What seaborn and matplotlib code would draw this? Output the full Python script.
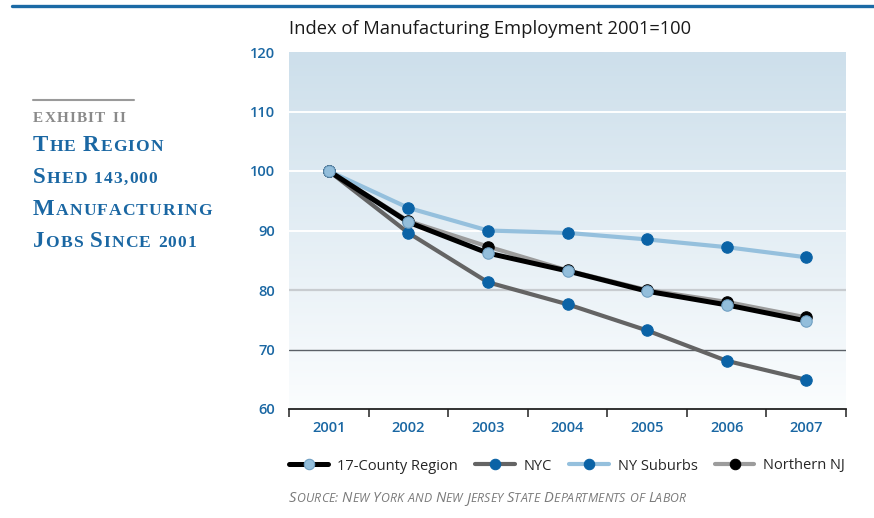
import numpy as np
import pandas as pd
import matplotlib
matplotlib.use("Agg")
import matplotlib.pyplot as plt
from matplotlib.lines import Line2D
from matplotlib.colors import LinearSegmentedColormap
import seaborn as sns

# Index of manufacturing employment, 2001 = 100
years = [2001, 2002, 2003, 2004, 2005, 2006, 2007]
region_17 = [100, 91.4, 86.2, 83.2, 79.8, 77.5, 74.8]
nyc = [100, 89.6, 81.3, 77.6, 73.2, 68.1, 64.9]
ny_suburbs = [100, 93.8, 90.0, 89.6, 88.5, 87.2, 85.5]
northern_nj = [100, 91.6, 87.3, 83.3, 80.0, 78.0, 75.4]
series_names = ["17-County Region", "NYC", "NY Suburbs", "Northern NJ"]
y_ticks = [60, 70, 80, 90, 100, 110, 120]

sns.set_theme(style="white")
SANS = ["Open Sans", "DejaVu Sans"]
SERIF = ["Liberation Serif", "DejaVu Serif"]
plt.rcParams["font.family"] = SANS

W, H = 874, 518
fig = plt.figure(figsize=(W / 100, H / 100), dpi=100)
fig.patch.set_facecolor("white")
ax = fig.add_axes([289 / W, 1 - 409 / H, (846 - 289) / W, (409 - 52) / H])

BLUE = "#1a67a3"
DOT = "#0b63a6"
LIGHT = "#95c0dd"

df = pd.DataFrame({"year": years, "17-County Region": region_17, "NYC": nyc,
                   "NY Suburbs": ny_suburbs, "Northern NJ": northern_nj})

styles = {
    "NYC": dict(color="#646464", lw=3.0, mfc=DOT, mec=DOT),
    "NY Suburbs": dict(color=LIGHT, lw=3.0, mfc=DOT, mec=DOT),
    "Northern NJ": dict(color="#9c9c9c", lw=3.0, mfc="black", mec="black"),
    "17-County Region": dict(color="black", lw=3.6, mfc="#93bedb", mec="#6f9fc2"),
}
handles = {}
for name in ["NYC", "NY Suburbs", "Northern NJ", "17-County Region"]:
    st = styles[name]
    sns.lineplot(data=df, x="year", y=name, ax=ax, color=st["color"],
                 linewidth=st["lw"], marker="o", markersize=8.2,
                 markerfacecolor=st["mfc"], markeredgecolor=st["mec"],
                 markeredgewidth=0.8, solid_capstyle="round")
    handles[name] = Line2D([], [], color=st["color"], lw=st["lw"], marker="o",
                           markersize=7.5, markerfacecolor=st["mfc"],
                           markeredgecolor=st["mec"], markeredgewidth=0.8)

# gradient backdrop
ax.set_xlim(2000.5, 2007.5)
ax.set_ylim(60, 120)
grad = LinearSegmentedColormap.from_list("bg", ["#fbfdfe", "#cddfeb"])
ax.imshow(np.linspace(0, 1, 256).reshape(-1, 1), cmap=grad, origin="lower",
          extent=[2000.5, 2007.5, 60, 120], aspect="auto", zorder=-2)

ax.set_yticks(y_ticks)
ax.set_xticks(years)
ax.set_xticks([y + 0.5 for y in [2000] + years], minor=True)
ax.set_xlabel("")
ax.set_ylabel("")
ax.tick_params(axis="y", length=0, pad=10, labelsize=10.5, labelcolor=BLUE)
ax.tick_params(axis="x", which="major", bottom=True, length=0, pad=9,
               labelsize=10.5, labelcolor=BLUE)
ax.tick_params(axis="x", which="minor", bottom=True, length=6, width=1.2,
               color="#333333", direction="out")
for lab in ax.get_xticklabels() + ax.get_yticklabels():
    lab.set_fontweight("semibold")

ax.grid(axis="y", linewidth=1.4)
ax.set_axisbelow(True)
grid_style = {60: ("none", 0), 70: ("#5b6067", 1.0), 80: ("#c8ccd0", 1.6),
              90: ("white", 1.4), 100: ("white", 1.4), 110: ("white", 1.4),
              120: ("none", 0)}
for val, gl in zip(y_ticks, ax.get_ygridlines()):
    c, w = grid_style[val]
    gl.set_color(c)
    gl.set_linewidth(w)

for side in ["left", "right", "top"]:
    ax.spines[side].set_visible(False)
ax.spines["bottom"].set_color("#222222")
ax.spines["bottom"].set_linewidth(1.3)

# title above the plot
fig.text(289 / W, 1 - 34 / H, "Index of Manufacturing Employment 2001=100",
         fontsize=13.2, color="#1a1a1a", ha="left", va="baseline")

# legend
fig.legend([handles[n] for n in series_names], series_names, loc="center left",
           bbox_to_anchor=(289 / W, 1 - 466 / H), ncol=4, frameon=False,
           fontsize=10.5, handlelength=2.7, handletextpad=0.6, columnspacing=1.2,
           borderaxespad=0, borderpad=0, numpoints=1)

# top rule and exhibit rule
fig.add_artist(Line2D([12 / W, 1], [1 - 6 / H] * 2, color="#1b6aa5", lw=2.4))
fig.add_artist(Line2D([33 / W, 134 / W], [1 - 100 / H] * 2, color="#9a9a9a", lw=1.5))

renderer = fig.canvas.get_renderer()


def caps_line(x_px, y_px, text, big, small, color, space_px, track=0.0, **kw):
    """Write text in small capitals: capitals at `big`, the rest upper-cased at `small`."""
    x = x_px
    for wi, word in enumerate(text.split(" ")):
        if wi:
            x += space_px
        for ch in word:
            t = fig.text(x / W, 1 - y_px / H, ch.upper(),
                         fontsize=big if ch.isupper() else small, color=color,
                         ha="left", va="baseline", **kw)
            x = t.get_window_extent(renderer).x1 + track


caps_line(33, 122.5, "exhibit ii", 11, 11, "#8a8a8a", 6, track=1.2,
          family=SERIF, fontweight="bold")
for k, line in enumerate(["The Region", "Shed 143,000", "Manufacturing", "Jobs Since 2001"]):
    caps_line(33, 151 + 32 * k, line, 16.5, 12.6, BLUE, 6, track=1.1,
              family=SERIF, fontweight="bold")

caps_line(289, 502, "Source: New York and New Jersey State Departments of Labor", 10.5, 8.8,
          "#7a7a7a", 3.8, track=0.1, family=SANS, fontstyle="italic")

fig.savefig("out.png", dpi=100, facecolor="white")
